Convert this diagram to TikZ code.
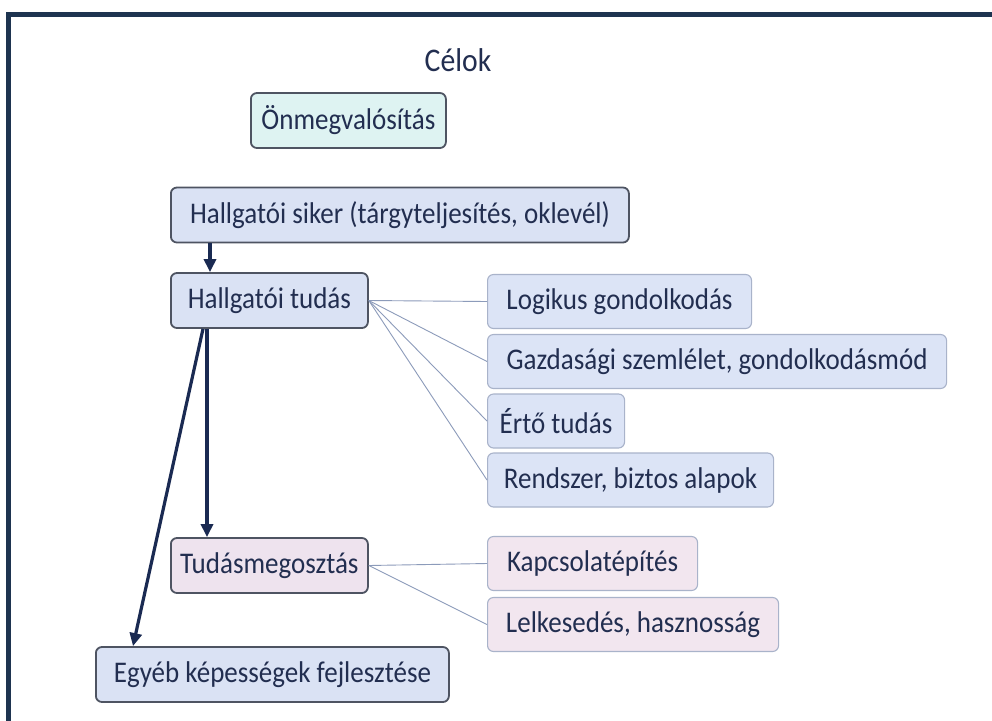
\documentclass[tikz,border=0pt]{standalone}
\usepackage{fontspec}
\setmainfont{Carlito}[FakeStretch=0.9]
\usetikzlibrary{arrows.meta}
\definecolor{framec}{HTML}{1E3450}
\definecolor{txt}{HTML}{222E50}
\definecolor{bluefill}{HTML}{DAE2F4}
\definecolor{bluefillb}{HTML}{DCE4F6}
\definecolor{cyanfill}{HTML}{DEF3F2}
\definecolor{pinkfill}{HTML}{EEE3EE}
\definecolor{pinkfillb}{HTML}{F2E6EF}
\definecolor{darkedge}{HTML}{4E5462}
\definecolor{lightedge}{HTML}{A9B3CA}
\definecolor{navy}{HTML}{1A2A52}
\definecolor{linkc}{HTML}{8C9BBA}
\begin{document}
\begin{tikzpicture}[x=1pt,y=-1pt,
  base/.style={rectangle, rounded corners=6pt, inner xsep=6pt, inner ysep=0pt,
    minimum height=55pt, anchor=west, text=txt,
    font=\fontsize{30}{34}\selectfont},
  mainbox/.style={base, draw=darkedge, line width=1.8pt},
  subbox/.style={base, draw=lightedge, line width=1.1pt, minimum height=54pt},
  arr/.style={draw=navy, line width=3.2pt, -{Triangle[length=13pt,width=12pt]}},
  link/.style={draw=linkc, line width=0.9pt}]
\useasboundingbox (0,0) rectangle (992,720);
\fill[white] (0,0) rectangle (992,720);
% frame (right and bottom edges lie outside the picture)
\draw[framec, line width=5pt] (1000,14.5) -- (8,14.5) -- (8,730);

\node[text=txt, font=\fontsize{33}{38}\selectfont] (title) at (458,60) {Célok};

\node[mainbox, fill=cyanfill, minimum width=195pt] (on) at (250,120.5) {Önmegvalósítás};
\node[mainbox, fill=bluefill, minimum width=458pt] (siker) at (170,215) {Hallgatói siker (tárgyteljesítés, oklevél)};
\node[mainbox, fill=bluefill, minimum width=197pt] (tudas) at (170,300.5) {Hallgatói tudás};

\node[subbox, fill=bluefillb, minimum width=264pt] (log) at (487,301.5) {Logikus gondolkodás};
\node[subbox, fill=bluefillb, minimum width=459pt] (gaz) at (487,361.5) {Gazdasági szemlélet, gondolkodásmód};
\node[subbox, fill=bluefillb, minimum width=137pt] (ert) at (487,421) {Értő tudás};
\node[subbox, fill=bluefillb, minimum width=286pt] (ren) at (487,480) {Rendszer, biztos alapok};

\node[mainbox, fill=pinkfill, minimum width=197pt] (tm) at (170,565.5) {Tudásmegosztás};
\node[subbox, fill=pinkfillb, minimum width=210pt] (kap) at (487,563.5) {Kapcsolatépítés};
\node[subbox, fill=pinkfillb, minimum width=291pt] (lel) at (487,624.5) {Lelkesedés, hasznosság};

\node[mainbox, fill=bluefill, minimum width=353pt] (egy) at (95,674.5) {Egyéb képességek fejlesztése};

% thin links
\draw[link] (tudas.east) -- (log.west);
\draw[link] (tudas.east) -- (gaz.west);
\draw[link] (tudas.east) -- (ert.west);
\draw[link] (tudas.east) -- (ren.west);
\draw[link] (tm.east) -- (kap.west);
\draw[link] (tm.east) -- (lel.west);

% arrows
\draw[arr] ([xshift=40pt]siker.south west) -- ([xshift=40pt]tudas.north west);
\draw[arr] ([xshift=37pt]tudas.south west) -- ([xshift=37pt]tm.north west);
\draw[arr] ([xshift=33pt]tudas.south west) -- ([xshift=38pt]egy.north west);
\end{tikzpicture}
\end{document}
